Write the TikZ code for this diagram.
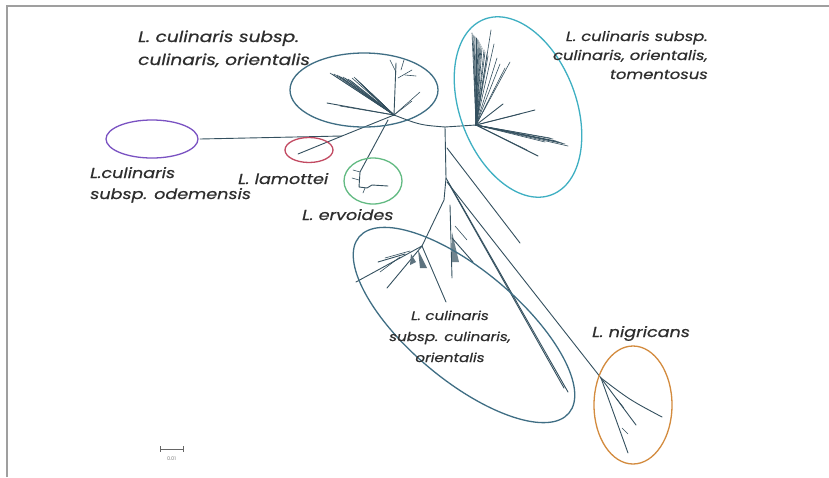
\documentclass[tikz,border=0pt]{standalone}
\usepackage{fontspec}
\setmainfont{Poppins}
\newfontfamily\lblf{Poppins}[ItalicFeatures={FakeBold=0.6,FakeStretch=1.22}]
\usetikzlibrary{shapes.geometric}
\begin{document}
\begin{tikzpicture}[x=1pt,y=-1pt,
  tree/.style={draw=treec, line width=0.9pt, line cap=round, line join=round},
  thin tree/.style={draw=treec, line width=0.6pt, line cap=round},
  grp/.style={draw, line width=1.3pt, ellipse, inner sep=0pt},
  lbl/.style={text=txt, font=\lblf\itshape\fontsize{14.4}{17}\selectfont, inner sep=0pt},
  lblb/.style={lbl, font=\lblf\itshape\fontsize{15.2}{17}\selectfont},
  lblc/.style={lbl, font=\lblf\itshape\fontsize{13.4}{17}\selectfont},
  lbld/.style={lbl, font=\lblf\itshape\fontsize{12.4}{15}\selectfont}]
\definecolor{treec}{HTML}{34505F}
\definecolor{txt}{HTML}{2E2E2E}
\definecolor{cpurple}{HTML}{7A52C2}
\definecolor{cred}{HTML}{C24A62}
\definecolor{cgreen}{HTML}{62BA82}
\definecolor{cblue}{HTML}{3F6E84}
\definecolor{ccyan}{HTML}{3EAFC2}
\definecolor{corange}{HTML}{D38B3E}
\useasboundingbox (0,0) rectangle (829,477);
\fill[white] (0,0) rectangle (829,477);
\draw[gray!75, line width=1.3pt] (7,477) -- (7,6) -- (829,6);

% tree coordinates
\coordinate (H1) at (394,115);
\coordinate (P1) at (342,136);
\coordinate (Pt) at (200,139);
\coordinate (Lt) at (298,154);
\coordinate (E0) at (388,120);
\coordinate (E1) at (360,172);
\coordinate (A) at (445,127);
\coordinate (H2) at (476,125);
\coordinate (B) at (446,178);
\coordinate (C) at (444,200);
\coordinate (L1) at (422,246);
\coordinate (N) at (601,378);

% backbone
\draw[tree] (Pt) -- (P1) -- (H1);
\draw[tree] (P1) -- (Lt);
\draw[tree] (E0) -- (E1) -- (359,187) -- (367,188) -- (372,185) -- (388,186);
\draw[thin tree] (E1) -- (353,170);
\draw[thin tree] (359,180) -- (352,178);
\draw[thin tree] (365,188) -- (363,193);
\draw[tree] (H1) .. controls (420,125) .. (A) -- (H2);
\draw[tree] (A) -- (B) -- (C) -- (L1);
\draw[tree] (447,148) -- (520,243);
\draw[tree] (B) -- (568,392);
\draw[tree] (449,184) -- (564,388);
\draw[tree] (447,182) -- (N);
\draw[tree] (N) .. controls (630,400) .. (662,417);
\draw[tree] (N) -- (636,425);
\draw[tree] (N) -- (628,453);
\draw[thin tree] (616,398) -- (624,408);
\draw[thin tree] (622,428) -- (628,434);

% lower cluster
\draw[tree] (L1) -- (356,282);
\draw[tree] (L1) -- (387,288);
\draw[tree] (L1) -- (446,302);
\draw[tree] (405,254) -- (378,262);
\draw[thin tree] (400,257) -- (380,272);
\draw[thin tree] (410,251) -- (385,258);
\fill[treec!80] (418,250) -- (420,268) -- (427,268) -- cycle;
\fill[treec!80] (411,254) -- (410,265) -- (416,262) -- cycle;
\draw[tree] (450,205) -- (452,278);
\fill[treec!70] (452,232) -- (459,262) -- (452,262) -- cycle;
\draw[tree] (452,238) -- (473,262);
\draw[thin tree] (455,226) -- (467,240);

% top cluster fan
\foreach \tx/\ty in {330/73,332/74,334/74,337/75,339/76,341/77,343/77,345/78,348/79,350/80,352/78,354/77,356/79,358/81,360/83,362/85,365/88,367/90,370/92,372/95}
  \draw[thin tree] (H1) -- (\tx,\ty);
\draw[tree] (H1) -- (327,103);
\draw[thin tree] (H1) -- (340,106);
\draw[tree] (H1) -- (396,63);
\draw[thin tree] (396,72) -- (390,60);
\draw[thin tree] (398,78) -- (412,70);
\draw[thin tree] (401,70) -- (404,60);
\draw[thin tree] (405,75) -- (416,76);
\draw[thin tree] (H1) -- (420,92);
\draw[thin tree] (H1) -- (412,101);

% cyan cluster fan
\foreach \tx/\ty in {472/33,473/35,474/36,475/37,476/38,477/39,478/40,479/42,480/44,481/46,482/48,484/50,485/52,487/54,488/56,491/30,494/44,497/58,500/64,505/68,510/62}
  \draw[thin tree] (H2) -- (\tx,\ty);
\draw[tree] (H2) -- (503,104);
\draw[tree] (H2) -- (535,110);
\draw[thin tree] (H2) -- (520,114);
\foreach \tx/\ty in {550/138,553/139,556/141,559/142,562/143,565/144,568/146,545/142}
  \draw[thin tree] (H2) -- (\tx,\ty);
\draw[tree] (H2) -- (538,156);
\draw[thin tree] (H2) -- (527,150);

% group ellipses
\node[grp, draw=cpurple, minimum width=92pt, minimum height=38pt] (gpur) at (152,139) {};
\node[grp, draw=cred, minimum width=48pt, minimum height=25pt] (gred) at (309,150) {};
\node[grp, draw=cgreen, minimum width=58pt, minimum height=46pt] (ggrn) at (373,181) {};
\node[grp, draw=cblue, minimum width=148pt, minimum height=74pt] (gtop) at (364,90) {};
\node[grp, draw=ccyan, minimum width=188pt, minimum height=116pt, rotate=-69] (gcyan) at (518,107) {};
\node[grp, draw=cblue, minimum width=274pt, minimum height=110pt, rotate=-40] (glow) at (464,325) {};
\node[grp, draw=corange, minimum width=78pt, minimum height=118pt] (gor) at (633,405) {};

% labels
\node[lblb, anchor=base west] (t1a) at (138,42) {L. culinaris subsp.};
\node[lblb, anchor=base west] (t1b) at (138,65) {culinaris, orientalis};
\node[lblc, anchor=base east] (t2a) at (708,41) {L. culinaris subsp.};
\node[lblc, anchor=base east] (t2b) at (708,60) {culinaris, orientalis,};
\node[lblc, anchor=base east] (t2c) at (708,79) {tomentosus};
\node[lbl, anchor=base west] (t3a) at (90,178) {L.culinaris};
\node[lbl, anchor=base west] (t3b) at (90,199) {subsp. odemensis};
\node[lbl, anchor=base west] (t4) at (238,184) {L. lamottei};
\node[lbl, anchor=base west] (t5) at (302,220) {L. ervoides};
\node[lbld, anchor=base] (t6a) at (450,320) {L. culinaris};
\node[lbld, anchor=base] (t6b) at (450,341) {subsp. culinaris,};
\node[lbld, anchor=base] (t6c) at (450,362) {orientalis};
\node[lbl, anchor=base west] (t7) at (592,337) {L. nigricans};

% scale bar
\coordinate (s1) at (160,449);
\coordinate (s2) at (183,449);
\draw[gray!80!black, line width=0.9pt] (s1) -- (s2);
\draw[gray!80!black, line width=0.9pt] (160,446) -- (160,452);
\draw[gray!80!black, line width=0.9pt] (183,446) -- (183,452);
\node[text=gray, font=\fontsize{5}{6}\selectfont, inner sep=0pt] (sl) at (171.5,459) {0.01};
\end{tikzpicture}
\end{document}
